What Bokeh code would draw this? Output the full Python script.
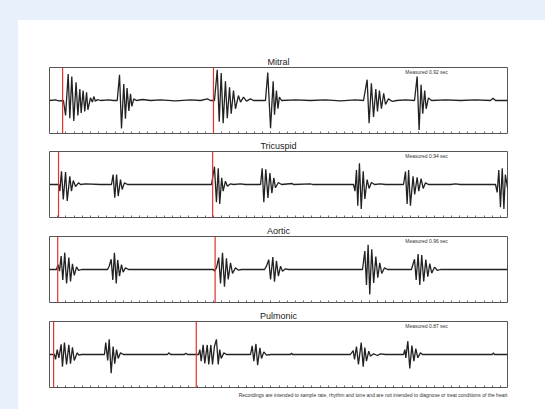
import numpy as np
from bokeh.plotting import figure
from bokeh.models import Range1d, Span, Label, Title, FixedTicker, Spacer
from bokeh.layouts import column, row
from bokeh.embed import file_html
from bokeh.resources import INLINE

# ---------------- data (time in seconds, amplitude normalised) ----------------
panel_names = ["Mitral", "Tricuspid", "Aortic", "Pulmonic"]
measured_sec = [0.92, 0.94, 0.96, 0.87]
first_marker_sec = [0.080, 0.055, 0.050, 0.025]

mitral_t = [0.000, 0.037, 0.055, 0.085, 0.098, 0.114, 0.124, 0.136, 0.148, 0.162, 0.173, 0.185, 0.193, 0.205,
            0.215, 0.226, 0.234, 0.250, 0.262, 0.270, 0.280, 0.293, 0.311, 0.360, 0.390, 0.413, 0.427, 0.439,
            0.453, 0.463, 0.473, 0.484, 0.494, 0.502, 0.514, 0.530, 0.567, 0.616, 0.677, 0.768, 0.860, 0.921,
            0.963, 0.982, 1.006, 1.023, 1.035, 1.047, 1.059, 1.073, 1.084, 1.098, 1.108, 1.122, 1.134, 1.152,
            1.165, 1.183, 1.201, 1.226, 1.244, 1.317, 1.331, 1.348, 1.364, 1.372, 1.384, 1.393, 1.402, 1.415,
            1.500, 1.591, 1.683, 1.774, 1.866, 1.915, 1.937, 1.949, 1.963, 1.976, 1.990, 2.000, 2.012, 2.024,
            2.038, 2.049, 2.067, 2.091, 2.116, 2.171, 2.226, 2.242, 2.254, 2.266, 2.276, 2.288, 2.297, 2.311,
            2.329, 2.415, 2.506, 2.598, 2.689, 2.705, 2.720, 2.793]
mitral_v = [0.00, 0.02, -0.01, 0.00, -0.45, 0.80, -0.54, 0.73, -0.62, 0.55, -0.45, 0.35, -0.38, 0.30,
            -0.33, 0.25, -0.28, 0.08, -0.05, 0.12, -0.02, 0.03, 0.00, 0.02, 0.00, 0.00, 0.78, -0.85,
            0.50, -0.55, 0.38, -0.32, 0.20, -0.18, 0.05, 0.00, 0.03, 0.00, 0.02, -0.01, 0.02, 0.00,
            0.05, 0.00, 0.00, 0.93, -0.64, 0.83, -0.69, 0.58, -0.54, 0.40, -0.40, 0.30, -0.25, 0.15,
            -0.05, 0.10, -0.02, 0.05, 0.00, 0.00, 0.85, -0.84, 0.58, -0.43, 0.30, -0.25, 0.10, 0.00,
            0.02, 0.00, 0.02, -0.01, 0.02, 0.00, 0.63, -0.69, 0.52, -0.50, 0.35, -0.33, 0.30, -0.25,
            0.22, -0.12, 0.05, -0.03, 0.00, 0.02, 0.00, 0.73, -0.89, 0.48, -0.40, 0.30, -0.25, 0.08,
            0.00, 0.02, 0.00, 0.02, 0.00, 0.07, 0.00, 0.00]

tricuspid_t = [0.000, 0.057, 0.063, 0.073, 0.084, 0.098, 0.108, 0.124, 0.134, 0.145, 0.159, 0.177, 0.189, 0.220,
               0.311, 0.378, 0.388, 0.398, 0.409, 0.419, 0.433, 0.443, 0.457, 0.476, 0.988, 1.006, 1.018, 1.029,
               1.038, 1.050, 1.059, 1.073, 1.085, 1.104, 1.122, 1.165, 1.195, 1.287, 1.297, 1.307, 1.319, 1.332,
               1.344, 1.356, 1.368, 1.378, 1.396, 1.415, 1.480, 1.488, 1.591, 1.604, 1.854, 1.863, 1.872, 1.880,
               1.890, 1.901, 1.913, 1.923, 1.937, 1.949, 1.963, 1.982, 2.018, 2.049, 2.159, 2.171, 2.181, 2.190,
               2.201, 2.217, 2.227, 2.242, 2.252, 2.266, 2.279, 2.293, 2.311, 2.445, 2.476, 2.506, 2.720, 2.730,
               2.740, 2.750, 2.761, 2.771, 2.780, 2.793]
tricuspid_v = [0.00, 0.00, -0.20, 0.40, -0.45, 0.38, -0.50, 0.25, -0.20, 0.12, -0.06, 0.05, 0.00, 0.02,
               0.00, 0.00, 0.30, -0.40, 0.30, -0.35, 0.15, -0.15, 0.05, 0.00, 0.00, 0.54, -0.54, 0.49,
               -0.59, 0.20, -0.20, 0.10, -0.05, 0.02, 0.00, 0.02, 0.00, 0.00, 0.49, -0.54, 0.46, -0.41,
               0.35, -0.26, 0.20, -0.10, 0.06, 0.00, 0.03, 0.00, 0.02, 0.00, 0.00, -0.20, 0.44, -0.64,
               0.64, -0.74, 0.40, -0.44, 0.15, -0.12, 0.06, 0.00, 0.02, 0.00, 0.00, 0.39, -0.59, 0.44,
               -0.64, 0.25, -0.30, 0.22, -0.20, 0.18, -0.12, 0.05, 0.00, 0.00, 0.02, 0.00, 0.00, -0.24,
               0.44, -0.69, 0.49, -0.74, 0.30, -0.10]

aortic_t = [0.000, 0.043, 0.052, 0.061, 0.071, 0.081, 0.093, 0.104, 0.118, 0.128, 0.140, 0.151, 0.165, 0.177,
            0.195, 0.354, 0.364, 0.376, 0.386, 0.396, 0.407, 0.416, 0.427, 0.439, 0.449, 0.463, 0.482, 1.000,
            1.006, 1.018, 1.032, 1.043, 1.055, 1.067, 1.079, 1.090, 1.104, 1.116, 1.134, 1.152, 1.171, 1.311,
            1.323, 1.337, 1.348, 1.362, 1.372, 1.384, 1.396, 1.409, 1.421, 1.439, 1.457, 1.909, 1.923, 1.933,
            1.943, 1.953, 1.965, 1.977, 1.990, 2.002, 2.014, 2.026, 2.043, 2.061, 2.207, 2.226, 2.236, 2.248,
            2.258, 2.270, 2.282, 2.295, 2.307, 2.319, 2.331, 2.348, 2.366, 2.384, 2.793]
aortic_v = [0.00, 0.00, 0.15, -0.05, 0.41, -0.32, 0.51, -0.42, 0.36, -0.36, 0.17, -0.18, 0.08, -0.03,
            0.00, 0.00, 0.10, 0.31, -0.32, 0.51, -0.42, 0.29, -0.20, 0.15, -0.08, 0.05, 0.00, 0.00,
            -0.05, 0.05, 0.36, -0.42, 0.51, -0.52, 0.34, -0.30, 0.20, -0.12, 0.05, -0.02, 0.00, 0.00,
            0.10, 0.30, -0.30, 0.38, -0.37, 0.26, -0.20, 0.10, -0.05, 0.02, 0.00, 0.00, 0.56, -0.47,
            0.75, -0.76, 0.61, -0.41, 0.39, -0.25, 0.20, -0.12, 0.05, 0.00, 0.00, 0.31, -0.32, 0.47,
            -0.47, 0.44, -0.36, 0.30, -0.22, 0.18, -0.11, 0.07, -0.03, 0.00, 0.00]

pulmonic_t = [0.000, 0.030, 0.037, 0.047, 0.057, 0.071, 0.079, 0.091, 0.104, 0.118, 0.128, 0.140, 0.151, 0.169,
              0.179, 0.195, 0.335, 0.343, 0.355, 0.364, 0.376, 0.388, 0.398, 0.409, 0.419, 0.433, 0.451, 0.720,
              0.727, 0.738, 0.823, 0.831, 0.841, 0.909, 0.917, 0.925, 0.937, 0.947, 0.962, 0.971, 0.984, 0.994,
              1.006, 1.018, 1.029, 1.038, 1.047, 1.063, 1.079, 1.226, 1.236, 1.246, 1.259, 1.269, 1.283, 1.293,
              1.307, 1.323, 1.348, 1.470, 1.476, 1.482, 1.835, 1.852, 1.860, 1.872, 1.884, 1.901, 1.913, 1.923,
              1.933, 1.947, 1.957, 1.976, 2.000, 2.018, 2.049, 2.159, 2.167, 2.173, 2.185, 2.197, 2.210, 2.222,
              2.234, 2.246, 2.262, 2.274, 2.701, 2.707, 2.713, 2.793]
pulmonic_v = [0.00, 0.00, -0.15, 0.15, -0.10, 0.31, -0.37, 0.36, -0.30, 0.29, -0.28, 0.22, -0.18, 0.05,
              -0.02, 0.00, 0.00, 0.36, -0.18, 0.46, -0.57, 0.24, -0.28, 0.15, -0.12, 0.05, 0.00, 0.00,
              0.05, 0.00, 0.00, 0.04, 0.00, 0.00, 0.15, -0.20, 0.29, -0.27, 0.29, -0.30, 0.29, -0.30,
              0.25, 0.46, -0.30, 0.15, -0.12, 0.05, 0.00, 0.00, 0.26, -0.20, 0.32, -0.32, 0.20, -0.12,
              0.08, -0.02, 0.00, 0.00, 0.04, 0.00, 0.00, 0.12, -0.15, 0.24, -0.30, 0.36, -0.37, 0.21,
              -0.20, 0.10, -0.05, 0.02, -0.03, 0.02, 0.00, 0.00, 0.15, -0.10, 0.41, -0.42, 0.27, -0.20,
              0.18, -0.10, 0.05, 0.00, 0.00, 0.05, 0.00, 0.00]

traces = [(mitral_t, mitral_v), (tricuspid_t, tricuspid_v), (aortic_t, aortic_v), (pulmonic_t, pulmonic_v)]
footer_text = ("Recordings are intended to sample rate, rhythm and tone and are not intended "
               "to diagnose or treat conditions of the heart")

# ---------------- styling ----------------
FONT = "Liberation Sans"
BLUE = "#e8f1fb"
TRACE = "#222222"
RED = "#e2332d"
T_MAX = 2.793
TICK_STEP = 0.05

borders = [(47, 4), (14, 4), (15, 4), (15, 22)]
time_ticks = np.arange(0, T_MAX + 1e-9, TICK_STEP).round(3).tolist()

figs = []
for i, (name, (t, v)) in enumerate(zip(panel_names, traces)):
    top, bottom = borders[i]
    p = figure(frame_width=458, frame_height=66, output_backend="svg", toolbar_location=None, tools="",
               x_range=Range1d(0, T_MAX), y_range=Range1d(-1, 1),
               min_border_left=31, min_border_right=36, min_border_top=top, min_border_bottom=bottom,
               background_fill_color="white", border_fill_color="white", margin=0)
    p.title.text = name
    p.title.align = "center"
    p.title.text_font = FONT
    p.title.text_font_size = "9px"
    p.title.text_font_style = "normal"
    p.title.text_color = "#222222"
    p.title.standoff = 1
    p.outline_line_color = "#555555"
    p.outline_line_width = 1
    p.grid.visible = False
    p.yaxis.visible = False
    ax = p.xaxis[0]
    ax.ticker = FixedTicker(ticks=[], minor_ticks=time_ticks)
    ax.minor_tick_in = 2
    ax.minor_tick_out = 0
    ax.minor_tick_line_color = "#666666"
    ax.major_tick_line_color = None
    ax.major_label_standoff = 0
    ax.axis_line_color = None

    p.line(t, v, line_color=TRACE, line_width=1.3)
    onset = first_marker_sec[i]
    for loc in (onset, onset + measured_sec[i]):
        p.add_layout(Span(location=loc, dimension="height", line_color=RED, line_width=1.2))
    p.add_layout(Label(x=2.17, y=0.96, text=f"Measured {measured_sec[i]:.2f} sec", text_font=FONT,
                       text_font_size="5px", text_color="#333333", text_baseline="top"))
    if i == len(panel_names) - 1:
        p.add_layout(Title(text=footer_text, align="right", text_font=FONT, text_font_size="5px",
                           text_font_style="normal", text_color="#333333", standoff=5), "below")
    figs.append(p)

top_band = Spacer(width=545, height=20, margin=0, styles={"background-color": BLUE})
left_band = Spacer(width=18, height=389, margin=0, styles={"background-color": BLUE})
layout = column(top_band, row(left_band, column(*figs, margin=0, spacing=0), margin=0, spacing=0),
                margin=0, spacing=0)

open("out.html", "w").write(file_html(layout, INLINE))
